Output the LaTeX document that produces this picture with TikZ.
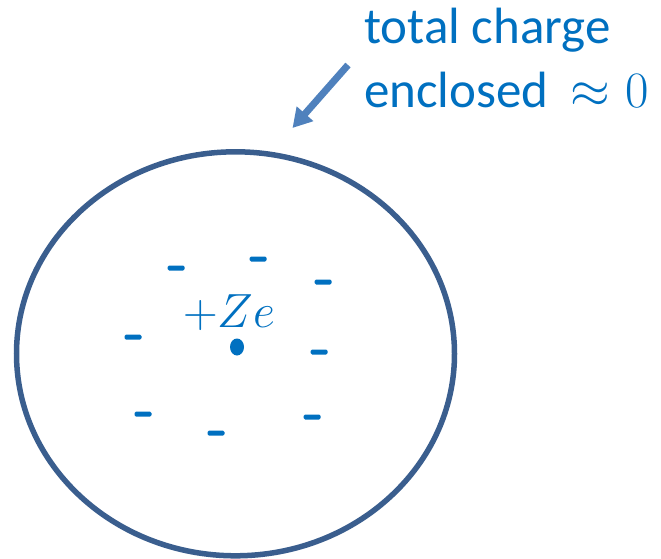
\RequirePackage{fix-cm}
\documentclass[tikz,border=0pt]{standalone}
\usepackage{fontspec}
\newfontfamily\calib{Carlito}
\usepackage{tikz}
\usetikzlibrary{arrows.meta, shapes.geometric}

\definecolor{shellblue}{RGB}{58,94,142}
\definecolor{chargeblue}{RGB}{0,112,192}
\definecolor{arrowblue}{RGB}{79,129,189}

\begin{document}
\begin{tikzpicture}[
    x=1pt, y=-1pt,
    shell/.style  = {draw=shellblue, line width=5.5pt},
    minus/.style  = {rectangle, fill=chargeblue, rounded corners=1.5pt,
                     minimum width=17pt, minimum height=5pt, inner sep=0pt},
    nucleus/.style= {ellipse, fill=chargeblue, minimum width=14pt,
                     minimum height=17pt, inner sep=0pt},
    note/.style   = {font=\calib\fontsize{51}{60}\selectfont, text=chargeblue,
                     inner sep=0pt, anchor=base west},
    arr/.style    = {-{Triangle[length=19pt, width=21pt]}, line width=7pt, arrowblue},
]

%% ---- Frame ----
\useasboundingbox (0,0) rectangle (661,559);

%% ---- Atom boundary ----
\draw[shell] (235.5,353.8) ellipse [x radius=219, y radius=202];

%% ---- Nucleus ----
\node[nucleus] (core) at (237,347) {};
\node[inner sep=0pt, anchor=base west, text=chargeblue,
      font=\fontsize{48}{58}\selectfont] (Zlbl) at (183,327) {$+Ze$};

%% ---- Electron cloud ----
\foreach \n/\x/\y in {1/176/268, 2/258/259, 3/323/282, 4/133/337,
                      5/319/352, 6/143/414, 7/312/417, 8/216/433}{
    \node[minus] (m\n) at (\x,\y) {};
}

%% ---- Annotation ----
\node[note] (lblA) at (364,44)  {total charge};
\node[note] (lblB) at (364,108)
    {enclosed\hspace{0.42em}$\approx$\hspace{0.3em}$0$};

\coordinate (tail) at (348,65);
\coordinate (tip)  at (292.5,128);
\draw[arr] (tail) -- (tip);

\end{tikzpicture}
\end{document}
